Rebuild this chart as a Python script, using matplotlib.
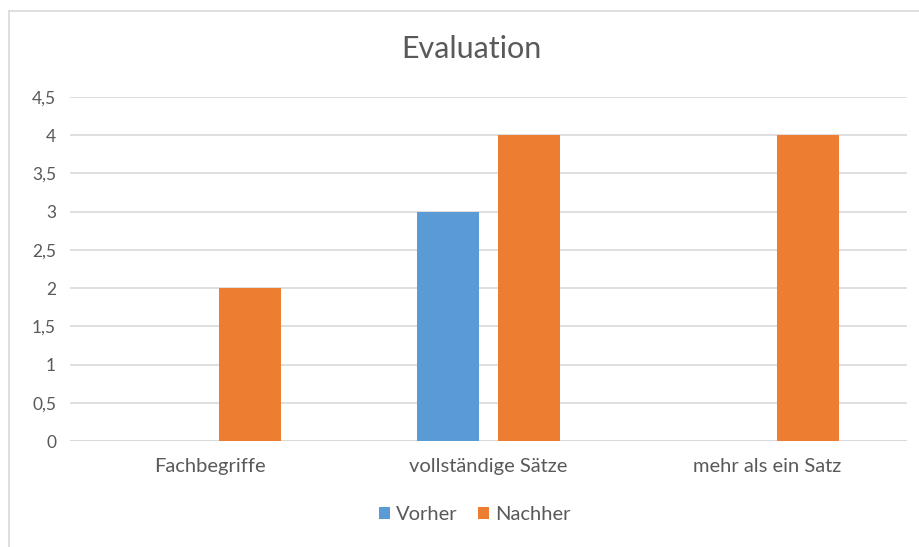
import matplotlib
matplotlib.use("Agg")
import matplotlib.pyplot as plt
import numpy as np
from matplotlib.lines import Line2D

categories = ["Fachbegriffe", "vollständige Sätze", "mehr als ein Satz"]
vorher = [0, 3, 0]
nachher = [2, 4, 4]
series_names = ["Vorher", "Nachher"]
yticks = [0, 0.5, 1, 1.5, 2, 2.5, 3, 3.5, 4, 4.5]
ytick_labels = ["0", "0,5", "1", "1,5", "2", "2,5", "3", "3,5", "4", "4,5"]

blue = "#5b9bd5"
orange = "#ed7d31"
text_color = "#595959"
grid_color = "#d9d9d9"
font = ["Lato", "DejaVu Sans"]

fig = plt.figure(figsize=(9.2, 5.47), dpi=100)
fig.patch.set_facecolor("white")

# outer chart frame (top and left edges visible)
fig.add_artist(Line2D([9 / 920, 9 / 920], [0, 1 - 11 / 547], color="#d9d9d9", lw=1.2,
                      transform=fig.transFigure))
fig.add_artist(Line2D([9 / 920, 1], [1 - 11 / 547, 1 - 11 / 547], color="#d9d9d9", lw=1.2,
                      transform=fig.transFigure))

ax = fig.add_axes([70 / 920, 1 - 441 / 547, 837 / 920, 344 / 547])
x = np.arange(len(categories))
width = 0.223
offset = 0.144
ax.bar(x - offset, vorher, width, color=blue, label=series_names[0], zorder=3)
ax.bar(x + offset, nachher, width, color=orange, label=series_names[1], zorder=3)

ax.set_xlim(-0.5, len(categories) - 0.5)
ax.set_ylim(0, 4.5)
ax.set_yticks(yticks)
ax.set_yticklabels(ytick_labels, fontsize=12.5, color=text_color, family=font)
ax.set_xticks(x)
ax.set_xticklabels(categories, fontsize=14.5, color=text_color, family=font)
ax.tick_params(axis="both", length=0)
ax.tick_params(axis="y", pad=10)
ax.tick_params(axis="x", pad=12)
ax.yaxis.grid(True, color=grid_color, lw=1.2, zorder=0)
for s in ax.spines.values():
    s.set_visible(False)
ax.axhline(0, color=grid_color, lw=1.2, zorder=2)

fig.text(471 / 920, 1 - 49 / 547, "Evaluation", ha="center", va="center",
         fontsize=22, color=text_color, family=font)

leg = fig.legend(loc="center", bbox_to_anchor=(475 / 920, 1 - 515 / 547), ncol=2,
                 frameon=False, prop={"family": font, "size": 14.5},
                 handlelength=0.55, handleheight=0.55, columnspacing=1.0, handletextpad=0.3)
for t in leg.get_texts():
    t.set_color(text_color)

fig.savefig("out.png", dpi=100, facecolor="white")
